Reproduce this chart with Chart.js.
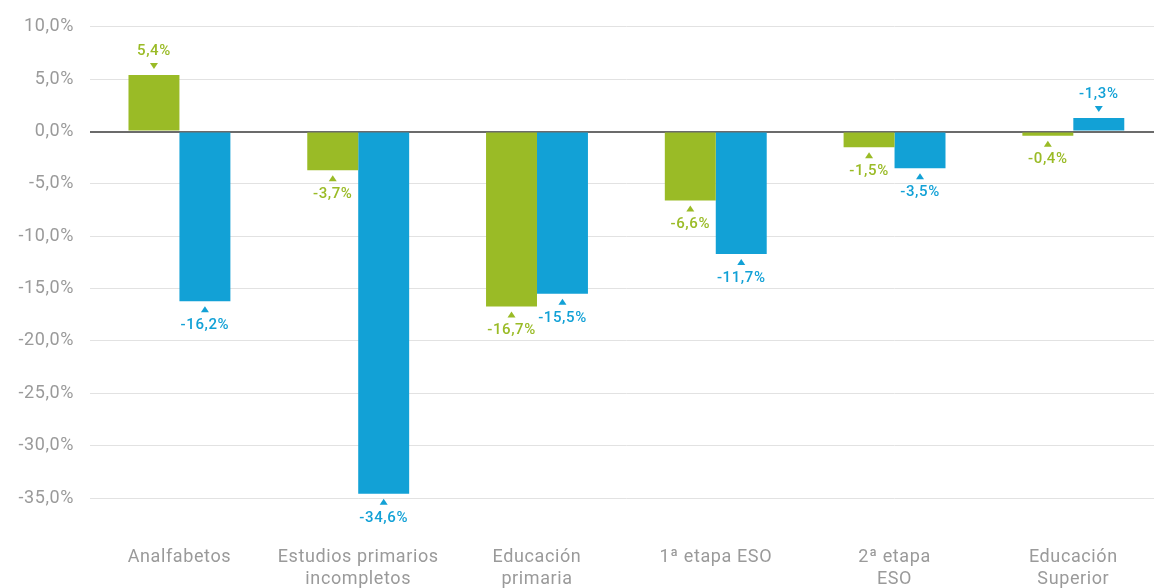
<!DOCTYPE html>
<html>
<head>
<meta charset="utf-8">
<script src="https://cdn.jsdelivr.net/npm/chart.js@4"></script>
<style>
  html, body { margin: 0; padding: 0; background: #fff; overflow: hidden; }
  /* el grafico original sigue un poco mas alla del borde derecho */
  #wrap { width: 1164px; height: 588px; }
</style>
</head>
<body>
<div id="wrap"><canvas id="variacion"></canvas></div>
<script>
// categorias y valores
let categories = [
    "Analfabetos",
    ["Estudios primarios", "incompletos"],
    ["Educación", "primaria"],
    "1ª etapa ESO",
    ["2ª etapa", "ESO"],
    ["Educación", "Superior"]
];
let greenValues = [5.4, -3.7, -16.7, -6.6, -1.5, -0.4];
let blueValues = [-16.2, -34.6, -15.5, -11.7, -3.5, 1.3];
// texto impreso en las etiquetas (la ultima azul aparece como -1,3% en el original)
let greenLabels = [5.4, -3.7, -16.7, -6.6, -1.5, -0.4];
let blueLabels = [-16.2, -34.6, -15.5, -11.7, -3.5, -1.3];
let yTicks = [10, 5, 0, -5, -10, -15, -20, -25, -30, -35];

const GREEN = '#9abb26';
const BLUE = '#12a1d6';
const fmt = v => v.toFixed(1).replace('.', ',') + '%';

// espaciado de letras como en la tipografia original
const spacing = {
    id: 'spacing',
    beforeDraw(chart) {
        chart.ctx.letterSpacing = '0.6px';
    }
};

const valueLabels = {
    id: 'valueLabels',
    afterDatasetsDraw(chart) {
        const ctx = chart.ctx;
        const printed = [greenLabels, blueLabels];
        chart.data.datasets.forEach((ds, di) => {
            const meta = chart.getDatasetMeta(di);
            meta.data.forEach((bar, i) => {
                const v = ds.data[i];
                const x = bar.x;
                const y = bar.y;
                ctx.save();
                ctx.fillStyle = ds.backgroundColor;
                ctx.font = '500 15px Roboto';
                ctx.letterSpacing = '0.6px';
                ctx.textAlign = 'center';
                ctx.textBaseline = 'middle';
                ctx.beginPath();
                if (v >= 0) {
                    // triangulo hacia abajo sobre la barra
                    ctx.moveTo(x - 4, y - 12);
                    ctx.lineTo(x + 4, y - 12);
                    ctx.lineTo(x, y - 6);
                    ctx.fill();
                    ctx.fillText(fmt(printed[di][i]), x, y - 24);
                } else {
                    ctx.moveTo(x - 4, y + 11);
                    ctx.lineTo(x + 4, y + 11);
                    ctx.lineTo(x, y + 5);
                    ctx.fill();
                    ctx.fillText(fmt(printed[di][i]), x, y + 24);
                }
                ctx.restore();
            });
        });
    }
};

function displayChart() {
    new Chart(
        document.getElementById('variacion'),
        {
            type: 'bar',
            data: {
                labels: categories,
                datasets: [
                    {
                        label: 'serie 1',
                        data: greenValues,
                        backgroundColor: GREEN,
                        categoryPercentage: 0.57,
                        barPercentage: 1.0,
                    },
                    {
                        label: 'serie 2',
                        data: blueValues,
                        backgroundColor: BLUE,
                        categoryPercentage: 0.57,
                        barPercentage: 1.0,
                    }
                ]
            },
            options: {
                responsive: true,
                maintainAspectRatio: false,
                animation: false,
                layout: {
                    padding: { top: 14, left: 6, right: 0, bottom: 0 }
                },
                plugins: {
                    legend: { display: false },
                    tooltip: { enabled: false },
                },
                scales: {
                    x: {
                        grid: { display: false, drawTicks: false },
                        border: { display: false },
                        afterFit: axis => { axis.height = 90; },
                        ticks: {
                            color: '#9a9a9a',
                            font: { family: 'Roboto', size: 18 },
                            padding: 49,
                            maxRotation: 0,
                            autoSkip: false,
                        }
                    },
                    y: {
                        min: -35,
                        max: 10,
                        afterBuildTicks: axis => {
                            axis.ticks = yTicks.map(v => ({ value: v }));
                        },
                        border: { display: false },
                        grid: {
                            drawTicks: false,
                            color: ctx => ctx.tick && ctx.tick.value === 0 ? '#6b6b6b' : '#e2e2e2',
                            lineWidth: ctx => ctx.tick && ctx.tick.value === 0 ? 2 : 1,
                        },
                        ticks: {
                            color: '#9a9a9a',
                            font: { family: 'Roboto', size: 18 },
                            padding: 16,
                            callback: v => fmt(v),
                        }
                    }
                },
            },
            plugins: [spacing, valueLabels],
        }
    );
}
displayChart();
</script>
</body>
</html>
